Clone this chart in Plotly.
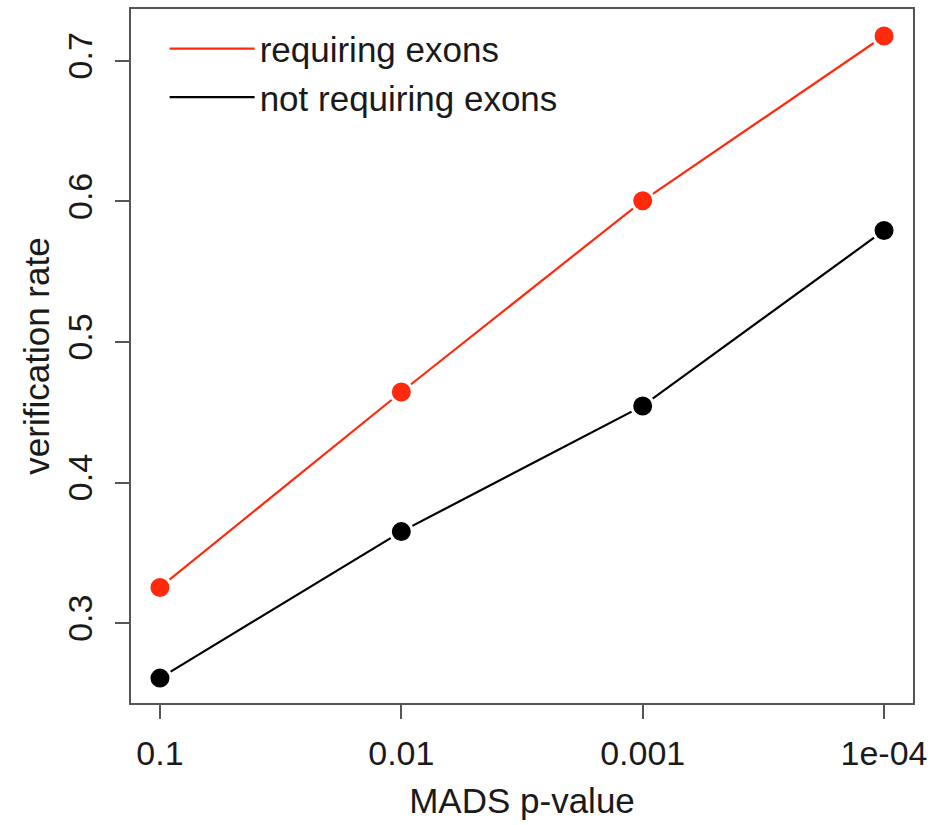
import plotly.graph_objects as go

categories = ["0.1", "0.01", "0.001", "1e-04"]
requiring = [0.3255, 0.4645, 0.6005, 0.7177]
not_requiring = [0.2610, 0.3652, 0.4546, 0.5794]
y_ticks = [0.3, 0.4, 0.5, 0.6, 0.7]
series = [("requiring exons", requiring, "#ff2a0c"),
          ("not requiring exons", not_requiring, "black")]

xpos = list(range(len(categories)))
FONT = "Liberation Sans, Arial, Helvetica, sans-serif"

fig = go.Figure()
for name, vals, col in series:
    fig.add_trace(go.Scatter(
        x=xpos, y=vals, mode="lines", name=name,
        line=dict(color=col, width=2.2),
    ))
for name, vals, col in series:
    fig.add_trace(go.Scatter(
        x=xpos, y=vals, mode="markers", name=name, showlegend=False,
        marker=dict(size=22, color=col, line=dict(color="white", width=3)),
    ))

fig.update_layout(
    width=935, height=825,
    margin=dict(l=131, r=22, t=7, b=122),
    paper_bgcolor="white", plot_bgcolor="white",
    font=dict(family=FONT, size=34, color="#1a1a1a"),
    showlegend=True,
    legend=dict(x=0.043, y=0.985, xanchor="left", yanchor="top",
                bgcolor="rgba(0,0,0,0)", font=dict(size=35),
                tracegroupgap=0, itemwidth=85),
    xaxis=dict(
        range=[-0.12, 3.12], tickmode="array", tickvals=xpos, ticktext=categories,
        showgrid=False, zeroline=False, showline=True, linecolor="#555", linewidth=1.5,
        mirror=True, ticks="outside", ticklen=14, tickcolor="#555", tickwidth=1.5,
        tickfont=dict(size=34), ticklabelstandoff=5,
        title=dict(text="MADS p-value", font=dict(size=35), standoff=18),
    ),
    yaxis=dict(
        range=[0.2433, 0.7369], tickmode="array", tickvals=y_ticks,
        ticktext=[f"{v:.1f}" for v in y_ticks],
        showgrid=False, zeroline=False, showline=True, linecolor="#555", linewidth=1.5,
        mirror=True, ticks="outside", ticklen=14, tickcolor="#555", tickwidth=1.5,
        tickangle=-90, tickfont=dict(size=34), ticklabelstandoff=10,
        title=dict(text="verification rate", font=dict(size=35), standoff=0),
    ),
)

fig.write_html("out.html")
